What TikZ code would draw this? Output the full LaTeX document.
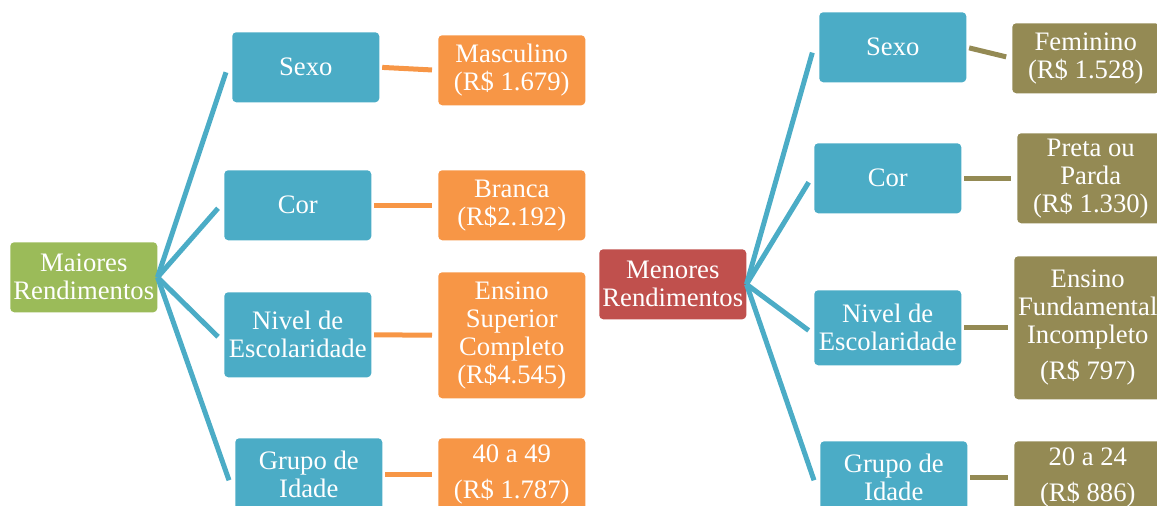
\documentclass[tikz,border=0pt]{standalone}
\usepackage{fontspec}
\setmainfont{Liberation Serif}
\definecolor{catblue}{HTML}{4BACC6}
\definecolor{leaforange}{HTML}{F79646}
\definecolor{rootgreen}{HTML}{9BBB59}
\definecolor{rootred}{HTML}{C0504D}
\definecolor{leafolive}{HTML}{948A54}
\begin{document}
\begin{tikzpicture}[x=0.75pt, y=-0.75pt,
  box/.style={rectangle, rounded corners=3pt, anchor=north west, minimum width=110.25pt, minimum height=52.5pt, inner xsep=1pt, inner ysep=2pt, text=white, align=center, font=\fontsize{20}{21}\selectfont},
  trunk/.style={catblue, line width=3.75pt},
  twig/.style={line width=3.75pt, shorten <=2pt, shorten >=4.5pt}]

\useasboundingbox (0,0) rectangle (1157,506);

\draw (10,242) node (maior) [box, fill=rootgreen] {Maiores\\Rendimentos};

\draw (232,32) node (sexo1) [box, fill=catblue] {Sexo};
\draw (224,170) node (cor1) [box, fill=catblue] {Cor};
\draw (224,292) node (niv1) [box, fill=catblue, minimum height=63.75pt] {Nivel de\\Escolaridade};
\draw (235,438) node (grp1) [box, fill=catblue, minimum height=54pt] {Grupo de\\Idade};

\draw (438,35) node (masc) [box, fill=leaforange] {Masculino\\(R\$ 1.679)};
\draw (438,170) node (branca) [box, fill=leaforange] {Branca\\(R\$2.192)};
\draw (438,272) node (ensup) [box, fill=leaforange, minimum height=94.5pt] {Ensino\\Superior\\Completo\\(R\$4.545)};
\draw (438,438) node (idade1) [box, fill=leaforange, minimum height=54pt] {40 a 49\\[6pt](R\$ 1.787)};

\draw [trunk] (maior.east) -- ([xshift=-4.5pt, yshift=-3.75pt]sexo1.west);
\draw [trunk] (maior.east) -- ([xshift=-4.5pt, yshift=-2.25pt]cor1.west);
\draw [trunk] (maior.east) -- ([xshift=-4.5pt, yshift=-1.5pt]niv1.west);
\draw [trunk] (maior.east) -- ([xshift=-4.5pt, yshift=-4.5pt]grp1.west);

\draw [twig, leaforange] (sexo1.east) -- (masc.west);
\draw [twig, leaforange] (cor1.east) -- (branca.west);
\draw [twig, leaforange] (niv1.east) -- (ensup.west);
\draw [twig, leaforange] (grp1.east) -- (idade1.west);

\draw (599,249) node (menor) [box, fill=rootred] {Menores\\Rendimentos};

\draw (819,12) node (sexo2) [box, fill=catblue] {Sexo};
\draw (814,143) node (cor2) [box, fill=catblue] {Cor};
\draw (814,290) node (niv2) [box, fill=catblue, minimum height=56.25pt] {Nivel de\\Escolaridade};
\draw (820,441) node (grp2) [box, fill=catblue, minimum height=54pt] {Grupo de\\Idade};

\draw (1012,23) node (fem) [box, fill=leafolive] {Feminino\\(R\$ 1.528)};
\draw (1017,133) node (preta) [box, fill=leafolive, minimum height=67.5pt] {Preta ou\\Parda\\(R\$ 1.330)};
\draw (1014,256) node (ensfund) [box, fill=leafolive, minimum height=107.25pt] {Ensino\\Fundamental\\Incompleto\\[6pt](R\$ 797)};
\draw (1014,441) node (idade2) [box, fill=leafolive, minimum height=54pt] {20 a 24\\[6pt](R\$ 886)};

\draw [trunk] (menor.east) -- ([xshift=-5pt, yshift=-4pt]sexo2.west);
\draw [trunk] (menor.east) -- ([xshift=-4pt, yshift=-3pt]cor2.west);
\draw [trunk] (menor.east) -- ([xshift=-4pt, yshift=-2pt]niv2.west);
\draw [trunk] (menor.east) -- ([xshift=-4.5pt, yshift=-2.25pt]grp2.west);

\draw [twig, leafolive] (sexo2.east) -- (fem.west);
\draw [twig, leafolive] (cor2.east) -- (preta.west);
\draw [twig, leafolive] (niv2.east) -- (ensfund.west);
\draw [twig, leafolive] (grp2.east) -- (idade2.west);

\end{tikzpicture}
\end{document}
